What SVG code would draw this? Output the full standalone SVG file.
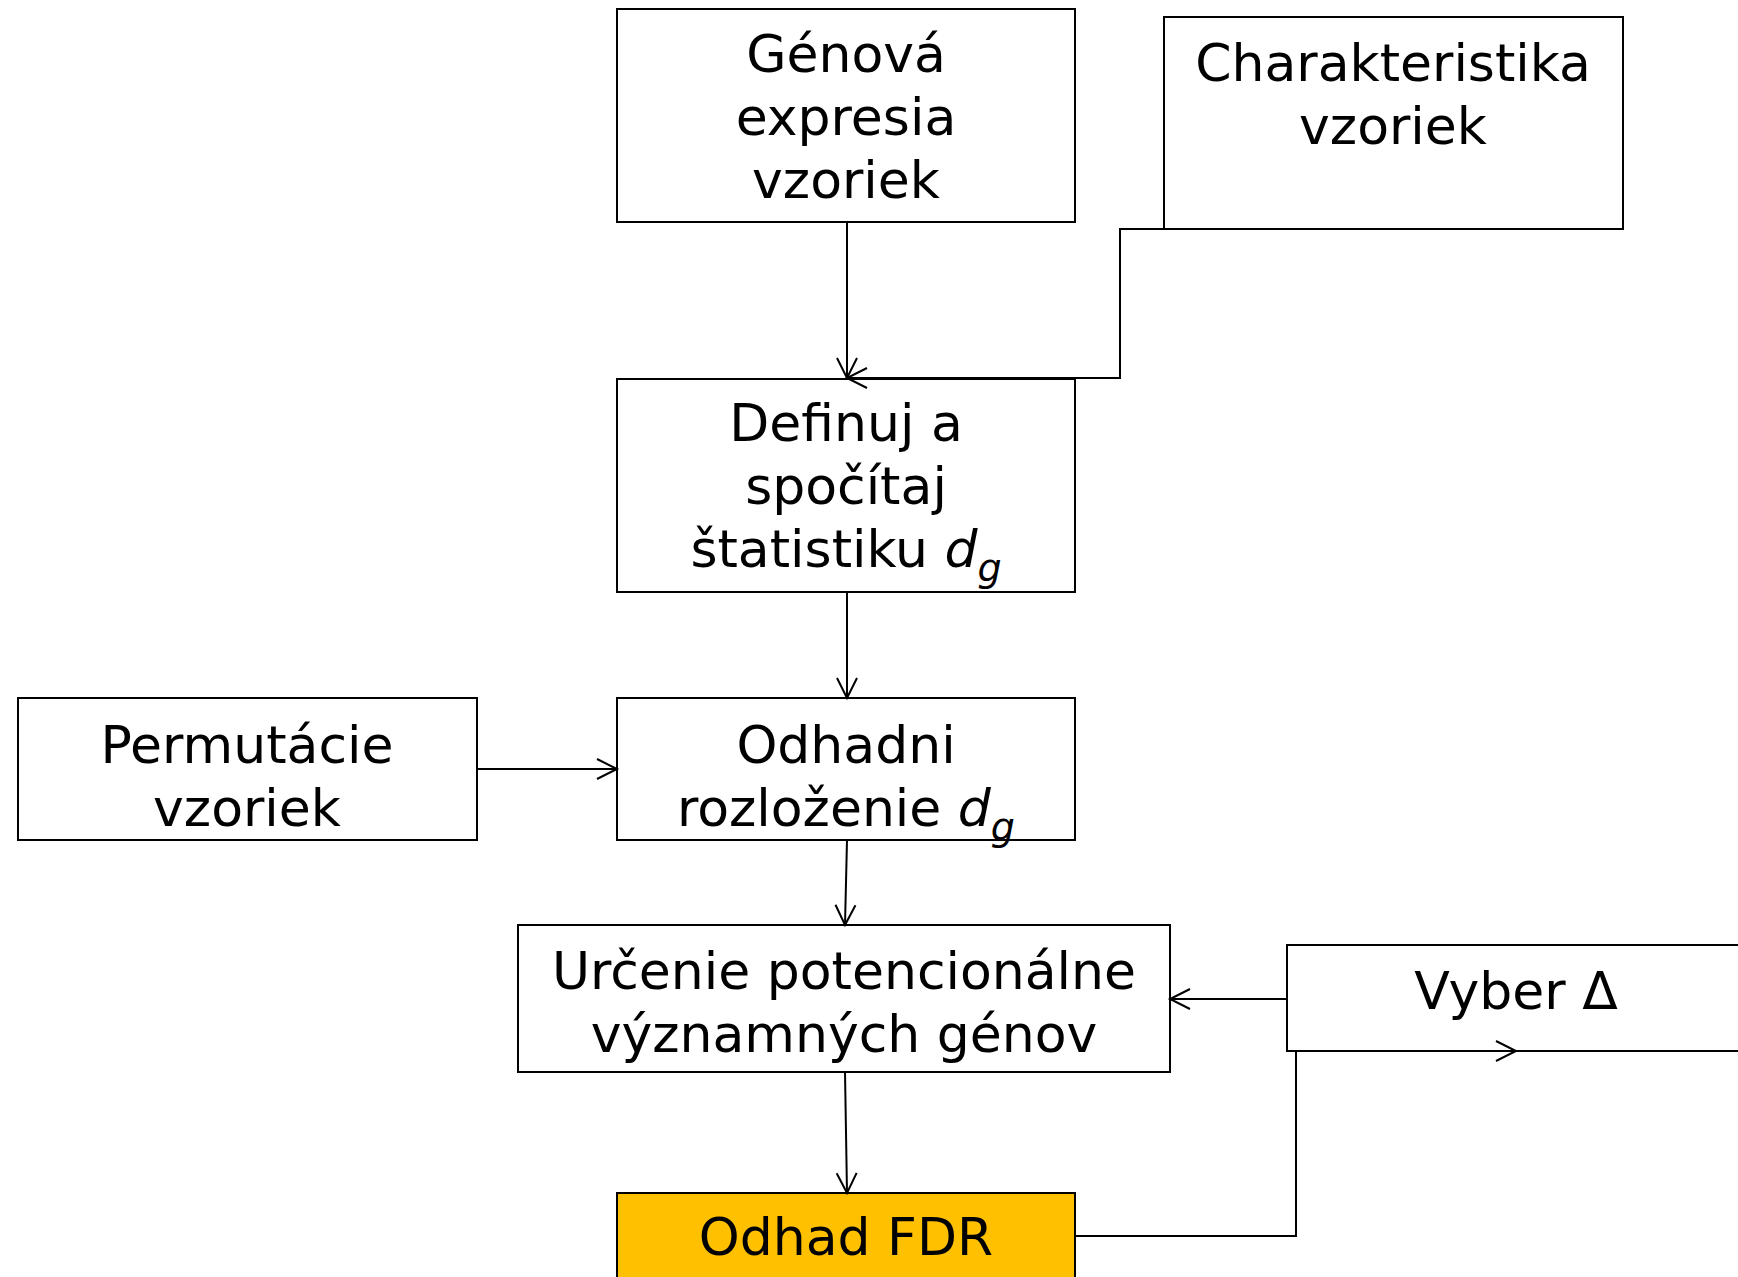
<svg xmlns="http://www.w3.org/2000/svg" width="1738" height="1277" viewBox="0 0 1738 1277">
<style>
.box{fill:#ffffff;stroke:#000;stroke-width:2}
.fdr{fill:#FFC000;stroke:#000;stroke-width:2}
.t{font-family:"DejaVu Sans","Verdana",sans-serif;font-size:52px;fill:#000;text-anchor:middle}
.it{font-style:italic}
.sub{font-style:italic;font-size:38px}
.c{fill:none;stroke:#000;stroke-width:2}
</style>
<defs>
<marker id="arr" markerUnits="userSpaceOnUse" markerWidth="26" markerHeight="26" viewBox="0 0 26 26" refX="22" refY="13" orient="auto">
<path d="M2,3 L22,13 L2,23" fill="none" stroke="#000" stroke-width="2"/>
</marker>
</defs>
<g id="n-genova">
<rect class="box" x="617" y="9" width="458" height="213"/>
<text class="t" x="846" y="72">Génová</text>
<text class="t" x="846" y="135">expresia</text>
<text class="t" x="846" y="198">vzoriek</text>
</g>
<g id="n-charakteristika">
<rect class="box" x="1164" y="17" width="459" height="212"/>
<text class="t" x="1393" y="81">Charakteristika</text>
<text class="t" x="1393" y="144">vzoriek</text>
</g>
<g id="n-definuj">
<rect class="box" x="617" y="379" width="458" height="213"/>
<text class="t" x="846" y="441">Definuj a</text>
<text class="t" x="846" y="504">spočítaj</text>
<text class="t" x="846" y="567">štatistiku <tspan class="it">d</tspan><tspan class="sub" dy="14">g</tspan></text>
</g>
<g id="n-permutacie">
<rect class="box" x="18" y="698" width="459" height="142"/>
<text class="t" x="247" y="763">Permutácie</text>
<text class="t" x="247" y="826">vzoriek</text>
</g>
<g id="n-odhadni">
<rect class="box" x="617" y="698" width="458" height="142"/>
<text class="t" x="846" y="763">Odhadni</text>
<text class="t" x="846" y="826">rozloženie <tspan class="it">d</tspan><tspan class="sub" dy="14">g</tspan></text>
</g>
<g id="n-urcenie">
<rect class="box" x="518" y="925" width="652" height="147"/>
<text class="t" x="844" y="989">Určenie potencionálne</text>
<text class="t" x="844" y="1052">významných génov</text>
</g>
<g id="n-vyber">
<rect class="box" x="1287" y="945" width="480" height="106"/>
<text class="t" x="1516" y="1009">Vyber Δ</text>
</g>
<g id="n-fdr">
<rect class="fdr" x="617" y="1193" width="458" height="120"/>
<text class="t" x="846" y="1255">Odhad FDR</text>
</g>
<g id="connectors">
<path class="c" d="M847,222 V378" marker-end="url(#arr)"/>
<path class="c" d="M1394,229 H1120 V378 H847" marker-end="url(#arr)"/>
<path class="c" d="M847,592 V698" marker-end="url(#arr)"/>
<path class="c" d="M477,769 H617" marker-end="url(#arr)"/>
<path class="c" d="M847,840 L845,925" marker-end="url(#arr)"/>
<path class="c" d="M1287,999 H1170" marker-end="url(#arr)"/>
<path class="c" d="M845,1072 L847,1193" marker-end="url(#arr)"/>
<path class="c" d="M1075,1236 H1296 V1051 H1516" marker-end="url(#arr)"/>
</g>
</svg>
